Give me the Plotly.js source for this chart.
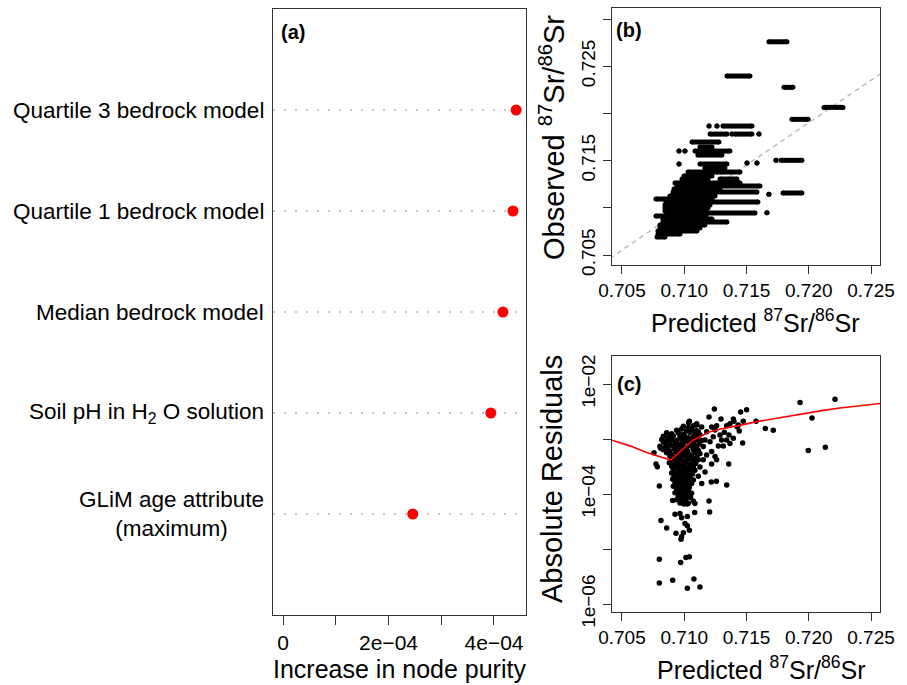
<!DOCTYPE html>
<html>
<head>
<meta charset="utf-8">
<script src="https://cdn.plot.ly/plotly-3.0.1.min.js"></script>
<style>html,body{margin:0;padding:0;background:#fff;}#chart{width:907px;height:685px;}</style>
</head>
<body>
<div id="chart"></div>
<script>
// ---------- Panel (a): variable importance ----------
const categories = [
  'Quartile 3 bedrock model',
  'Quartile 1 bedrock model',
  'Median bedrock model',
  'Soil pH in H<sub>2</sub> O solution',
  'GLiM age attribute<br>(maximum)'
];
const purityIncrease = [4.42e-4, 4.36e-4, 4.17e-4, 3.94e-4, 2.46e-4];
const aTickVals = [0, 2e-4, 4e-4];
const aTickText = ['0', '2e\u221204', '4e\u221204'];
const aMinorTicks = [1e-4, 3e-4];

// ---------- Panel (b): observed vs predicted (horizontal runs of points) ----------
const bObs = [0.72759,0.72396,0.72276,0.72064,0.71937,0.71503,0.71503,0.71474,0.71474,0.71157,0.71143,0.70948,
  0.71866,0.71866,0.71866,0.71781,0.71781,0.71781,0.71781,0.71697,0.71644,0.71601,0.71601,0.71601,0.71601,0.71559,
  0.71464,0.71464,0.71421,0.71379,0.71379,0.71337,0.71305,0.71305,0.71262,0.71231,0.71199,0.71167,0.71125,0.71093,
  0.71061,0.71030,0.70998,0.70966,0.70945,0.70913,0.70881,0.70849,0.70818,0.70786,0.70754,0.70722,0.70691];
const bPredFrom = [0.71680,0.71343,0.71801,0.72122,0.71865,0.71737,0.71777,0.71504,0.71584,0.71793,0.71680,0.71664,
  0.71199,0.71263,0.71311,0.71207,0.71383,0.71407,0.71600,0.71062,0.71126,0.70958,0.71006,0.71086,0.71247,0.71110,
  0.70958,0.71126,0.71166,0.71030,0.71287,0.70998,0.70982,0.71287,0.70926,0.70942,0.70918,0.70910,0.70885,0.70773,
  0.70853,0.70845,0.70845,0.70845,0.70861,0.70773,0.70829,0.70829,0.70805,0.70805,0.70789,0.70789,0.70781];
const bPredTo = [0.71825,0.71528,0.71873,0.72275,0.71994,0.71737,0.71945,0.71504,0.71584,0.71945,0.71680,0.71664,
  0.71199,0.71263,0.71544,0.71343,0.71383,0.71544,0.71600,0.71279,0.71223,0.70958,0.71006,0.71223,0.71367,0.71303,
  0.70958,0.71343,0.71327,0.71271,0.71448,0.71223,0.71191,0.71423,0.71448,0.71608,0.71287,0.71584,0.71247,0.71223,
  0.71592,0.71207,0.71191,0.71175,0.71568,0.71175,0.71223,0.71343,0.71166,0.71126,0.71102,0.70966,0.70845];
const bFitIntercept = 0.07102, bFitSlope = 0.9;
const srTickVals = [0.705, 0.710, 0.715, 0.720, 0.725];
const srTickText = ['0.705', '0.710', '0.715', '0.720', '0.725'];
const bYTickVals = [0.705, 0.715, 0.725];
const bYTickText = ['0.705', '0.715', '0.725'];
const bYMinorTicks = [0.710, 0.720, 0.730];

// ---------- Panel (c): absolute residuals ----------
const cPoints = [
 [0.72211,5.3e-3],[0.71930,4.6e-3],[0.72026,2.4e-3],[0.71651,1.55e-3],[0.71715,1.45e-3],[0.71996,6.2e-4],[0.72133,7.1e-4],
 [0.71577,2.1e-3],[0.71501,3.4e-3],[0.71453,3.1e-3],[0.71242,3.5e-3],[0.71469,8.5e-4],[0.71357,3.5e-4],[0.71341,1.46e-4],
 [0.71258,1.7e-4],[0.71217,1.65e-4],[0.71199,7.5e-5],[0.71204,4.7e-5],[0.71084,4.6e-5],
 [0.71199,2.5e-3],[0.71295,2.3e-3],[0.71394,2.3e-3],[0.71399,2.1e-3],[0.71367,1.9e-3],[0.71341,1.75e-3],[0.71260,1.75e-3],
 [0.71220,1.65e-3],[0.71426,1.65e-3],[0.71442,1.4e-3],[0.71322,1.33e-3],[0.71287,1.18e-3],[0.71359,1.18e-3],[0.71394,1.03e-3],
 [0.71367,8.3e-4],[0.71274,7.5e-4],[0.71314,7.5e-4],[0.71233,1.1e-3],[0.71167,9.6e-4],[0.71207,8.9e-4],[0.71153,7.3e-4],
 [0.71220,5.9e-4],[0.71140,1.65e-3],[0.71100,1.9e-3],[0.71041,2.1e-3],[0.71113,1.36e-3],[0.71180,1.36e-3],[0.71247,1.46e-3],
 [0.71300,9.6e-4],[0.71434,1.8e-3],[0.71474,2.1e-3],[0.71341,9.6e-4],[0.71180,5.1e-4],[0.71247,4.8e-4],[0.71153,4.2e-4],
 [0.71220,3.5e-4],[0.71260,4.2e-4],[0.71126,3.1e-4],[0.71167,2.5e-4],[0.71113,2.1e-4],[0.71140,1.56e-4],
 [0.70993,1.70e-3],[0.71033,1.62e-3],[0.71073,1.75e-3],
 [0.70939,1.45e-3],[0.70979,1.52e-3],[0.71019,1.40e-3],[0.71059,1.48e-3],[0.71100,1.43e-3],
 [0.70859,1.30e-3],[0.70899,1.24e-3],[0.70952,1.28e-3],[0.70993,1.22e-3],[0.71046,1.31e-3],[0.71086,1.25e-3],[0.71126,1.20e-3],
 [0.70832,1.12e-3],[0.70872,1.06e-3],[0.70912,1.13e-3],[0.70966,1.08e-3],[0.71006,1.11e-3],[0.71033,1.05e-3],[0.71073,1.09e-3],[0.71113,1.14e-3],
 [0.70819,9.8e-4],[0.70859,9.3e-4],[0.70899,9.7e-4],[0.70939,9.4e-4],[0.70979,9.9e-4],[0.71019,9.5e-4],[0.71059,9.2e-4],[0.71100,9.8e-4],[0.71140,9.4e-4],
 [0.70845,8.5e-4],[0.70885,8.1e-4],[0.70926,8.4e-4],[0.70966,8.0e-4],[0.70998,8.6e-4],[0.71041,8.2e-4],[0.71078,8.4e-4],[0.71121,8.1e-4],
 [0.70805,7.4e-4],[0.70864,7.1e-4],[0.70907,7.5e-4],[0.70944,7.2e-4],[0.70982,7.3e-4],[0.71019,7.0e-4],[0.71059,7.4e-4],[0.71100,7.2e-4],
 [0.70832,6.4e-4],[0.70880,6.1e-4],[0.70920,6.5e-4],[0.70960,6.2e-4],[0.70993,6.3e-4],[0.71028,6.0e-4],[0.71073,6.4e-4],[0.71113,6.2e-4],
 [0.70859,5.6e-4],[0.70899,5.3e-4],[0.70939,5.7e-4],[0.70971,5.4e-4],[0.71006,5.5e-4],[0.71046,5.2e-4],[0.71086,5.6e-4],[0.71126,5.4e-4],
 [0.70885,4.9e-4],[0.70926,4.6e-4],[0.70958,4.8e-4],[0.70987,5.0e-4],[0.71019,4.7e-4],[0.71059,4.9e-4],[0.71100,4.6e-4],
 [0.70899,4.3e-4],[0.70939,4.1e-4],[0.70971,4.2e-4],[0.71001,4.0e-4],[0.71033,4.3e-4],[0.71073,4.1e-4],[0.71113,4.2e-4],
 [0.70880,3.7e-4],[0.70918,3.5e-4],[0.70952,3.6e-4],[0.70985,3.4e-4],[0.71014,3.7e-4],[0.71051,3.5e-4],[0.71092,3.6e-4],
 [0.70899,3.2e-4],[0.70939,3.0e-4],[0.70971,3.1e-4],[0.70998,3.2e-4],[0.71033,3.0e-4],[0.71073,3.1e-4],
 [0.70912,2.8e-4],[0.70952,2.6e-4],[0.70979,2.7e-4],[0.71012,2.8e-4],[0.71046,2.6e-4],[0.71086,2.7e-4],
 [0.70899,2.4e-4],[0.70934,2.3e-4],[0.70966,2.45e-4],[0.70998,2.35e-4],[0.71033,2.4e-4],[0.71067,2.3e-4],
 [0.70918,2.1e-4],[0.70952,2.05e-4],[0.70985,2.15e-4],[0.71014,2.0e-4],[0.71046,2.1e-4],
 [0.70907,1.85e-4],[0.70939,1.75e-4],[0.70971,1.8e-4],[0.71001,1.85e-4],[0.71033,1.75e-4],[0.71073,1.8e-4],
 [0.70926,1.6e-4],[0.70960,1.52e-4],[0.70993,1.58e-4],[0.71025,1.5e-4],[0.71059,1.55e-4],
 [0.70912,1.38e-4],[0.70944,1.33e-4],[0.70979,1.36e-4],[0.71012,1.4e-4],[0.71041,1.32e-4],
 [0.70939,1.2e-4],[0.70971,1.16e-4],[0.71001,1.19e-4],[0.71033,1.15e-4],
 [0.70926,1.05e-4],[0.70960,1.0e-4],[0.70993,1.04e-4],[0.71019,1.01e-4],[0.71059,1.03e-4],
 [0.70952,9.0e-5],[0.70987,8.7e-5],[0.71019,8.9e-5],[0.71051,8.6e-5],
 [0.70939,7.9e-5],[0.70979,7.6e-5],[0.71014,7.8e-5],[0.71073,7.5e-5],
 [0.70966,6.9e-5],[0.70998,6.6e-5],[0.71033,6.8e-5],[0.71086,6.7e-5],
 [0.70800,1.40e-4],[0.70907,7.6e-5],[0.71025,6.6e-5],[0.70926,4.3e-5],[0.70966,4.4e-5],[0.70979,3.7e-5],[0.71025,3.9e-5],
 [0.70813,3.3e-5],[0.70859,2.4e-5],[0.70934,1.93e-5],[0.70974,1.50e-5],[0.70979,1.67e-5],[0.70993,1.98e-5],[0.71006,2.9e-5],
 [0.71025,2.65e-5],[0.71041,2.2e-5],[0.70800,6.5e-6],[0.70971,5.7e-6],[0.71014,7.0e-6],[0.71041,7.2e-6],[0.70800,2.4e-6],
 [0.70907,2.7e-6],[0.71078,2.85e-6],[0.71025,1.93e-6],[0.71126,2.04e-6],
 [0.70757,5.65e-4],[0.70773,3.5e-4],[0.70784,3.14e-4],[0.70832,8.9e-4],[0.70811,6.8e-4],[0.70845,7.0e-4],[0.70872,1.03e-3],
 [0.71035,1.98e-3],[0.71100,1.8e-3]
];
const cCurvePred  = [0.70400,0.70564,0.70698,0.70832,0.70891,0.70926,0.70966,0.71019,0.71073,0.71126,0.71207,0.71300,0.71394,0.71448,0.71581,0.71715,0.71849,0.71983,0.72117,0.72251,0.72384,0.72600];
const cCurveResid = [9.8e-4,7.5e-4,5.7e-4,4.6e-4,4.15e-4,4.9e-4,5.9e-4,7.7e-4,9.6e-4,1.10e-3,1.36e-3,1.54e-3,1.68e-3,1.77e-3,2.07e-3,2.34e-3,2.65e-3,2.97e-3,3.32e-3,3.66e-3,3.98e-3,4.5e-3];
const cYTickVals = [1e-6, 1e-4, 1e-2];
const cYTickText = ['1e\u221206', '1e\u221204', '1e\u221202'];
const cYMinorTicks = [1e-5, 1e-3];

// ---------- build ----------
const FONT = 'Liberation Sans, Arial, Helvetica, sans-serif';
const LINE = '#333333';
const W = 907, H = 685;
const px = v => v / W, py = v => (H - v) / H;

const nCat = categories.length;
const catOrder = categories.slice().reverse(); // bottom -> top

const bx = [], by = [];
for (let i = 0; i < bObs.length; i++) {
  bx.push(bPredFrom[i], bPredTo[i], null);
  by.push(bObs[i], bObs[i], null);
}
const bRange = [0.70420, 0.72572];
const fitX = [0.7040, 0.7260];
const fitY = fitX.map(x => bFitIntercept + bFitSlope * x);

const traces = [
  {type: 'scatter', mode: 'markers', x: purityIncrease, y: categories, xaxis: 'x', yaxis: 'y',
   marker: {color: '#ff0000', size: 11}, hoverinfo: 'skip'},
  {type: 'scatter', mode: 'lines', x: fitX, y: fitY, xaxis: 'x2', yaxis: 'y2',
   line: {color: '#bdbdbd', width: 1.5, dash: '5px,4px'}, hoverinfo: 'skip'},
  {type: 'scatter', mode: 'lines+markers', x: bx, y: by, xaxis: 'x2', yaxis: 'y2', connectgaps: false,
   line: {color: '#000', width: 5}, marker: {color: '#000', size: 5}, hoverinfo: 'skip'},
  {type: 'scatter', mode: 'markers', x: cPoints.map(p => p[0]), y: cPoints.map(p => p[1]), xaxis: 'x3', yaxis: 'y3',
   marker: {color: '#000', size: 5.5}, hoverinfo: 'skip'},
  {type: 'scatter', mode: 'lines', x: cCurvePred, y: cCurveResid, xaxis: 'x3', yaxis: 'y3',
   line: {color: '#ff0000', width: 1.6}, hoverinfo: 'skip'}
];

const axBase = {showgrid: false, zeroline: false, showline: true, mirror: true, linecolor: LINE, linewidth: 1,
  ticks: 'outside', ticklen: 8, tickcolor: LINE, tickwidth: 1, tickfont: {family: FONT, size: 19, color: '#000'}};
const minorTicks = (vals, len) => ({tickmode: 'array', tickvals: vals, ticks: 'outside', ticklen: len, tickcolor: LINE, tickwidth: 1, showgrid: false});

const shapes = categories.map((c, i) => ({
  type: 'line', xref: 'x domain', yref: 'y', x0: 0, x1: 1, y0: nCat - 1 - i, y1: nCat - 1 - i,
  line: {color: '#c8c8c8', width: 2, dash: '2px,9px'}, layer: 'below'
}));

const annotations = [];
categories.forEach((c, i) => {
  annotations.push({text: c, xref: 'paper', yref: 'y', x: px(266), y: nCat - 1 - i, xanchor: 'right', yanchor: 'middle',
    align: 'center', showarrow: false, font: {family: FONT, size: 22.5, color: '#000'}});
});
const panelLab = (t, x, y) => ({text: '<b>' + t + '</b>', xref: 'paper', yref: 'paper', x: px(x), y: py(y),
  xanchor: 'left', yanchor: 'middle', showarrow: false, font: {family: FONT, size: 20, color: '#000'}});
annotations.push(panelLab('(a)', 279, 32), panelLab('(b)', 614, 30), panelLab('(c)', 615, 384));
const title = (t, x, y, size, angle) => ({text: t, xref: 'paper', yref: 'paper', x: px(x), y: py(y),
  xanchor: 'center', yanchor: 'middle', showarrow: false, textangle: angle || 0, font: {family: FONT, size: size, color: '#000'}});
annotations.push(
  title('Increase in node purity', 399.5, 669, 25),
  title('Predicted <sup>87</sup>Sr/<sup>86</sup>Sr', 755, 321, 25),
  title('Predicted <sup>87</sup>Sr/<sup>86</sup>Sr', 761, 668, 25),
  title('Observed <sup>87</sup>Sr/<sup>86</sup>Sr', 552, 138, 29, -90),
  title('Absolute Residuals', 552, 479, 29, -90)
);

const layout = {
  width: W, height: H, margin: {l: 0, r: 0, t: 0, b: 0}, showlegend: false,
  paper_bgcolor: '#fff', plot_bgcolor: '#fff', font: {family: FONT},
  xaxis: Object.assign({}, axBase, {domain: [px(273), px(526)], anchor: 'y', range: [-1.9e-5, 4.607e-4],
    tickmode: 'array', tickvals: aTickVals, ticktext: aTickText, ticklen: 9, minor: minorTicks(aMinorTicks, 9),
    tickfont: {family: FONT, size: 21, color: '#000'}}),
  yaxis: Object.assign({}, axBase, {domain: [py(615), py(9)], anchor: 'x', type: 'category',
    categoryorder: 'array', categoryarray: catOrder, range: [-1, nCat], ticks: '', showticklabels: false}),
  xaxis2: Object.assign({}, axBase, {domain: [px(612), px(880)], anchor: 'y2', range: bRange,
    tickmode: 'array', tickvals: srTickVals, ticktext: srTickText}),
  yaxis2: Object.assign({}, axBase, {domain: [py(265), py(8)], anchor: 'x2', range: [0.70394, 0.73117],
    tickmode: 'array', tickvals: bYTickVals, ticktext: bYTickText, tickangle: -90, minor: minorTicks(bYMinorTicks, 8)}),
  xaxis3: Object.assign({}, axBase, {domain: [px(612), px(880)], anchor: 'y3', range: bRange,
    tickmode: 'array', tickvals: srTickVals, ticktext: srTickText}),
  yaxis3: Object.assign({}, axBase, {domain: [py(612), py(356)], anchor: 'x3', type: 'log', range: [-6.145, -1.491],
    tickmode: 'array', tickvals: cYTickVals, ticktext: cYTickText, tickangle: -90, minor: minorTicks(cYMinorTicks, 8)}),
  shapes: shapes,
  annotations: annotations
};

Plotly.newPlot('chart', traces, layout, {staticPlot: true, displayModeBar: false});
</script>
</body>
</html>
